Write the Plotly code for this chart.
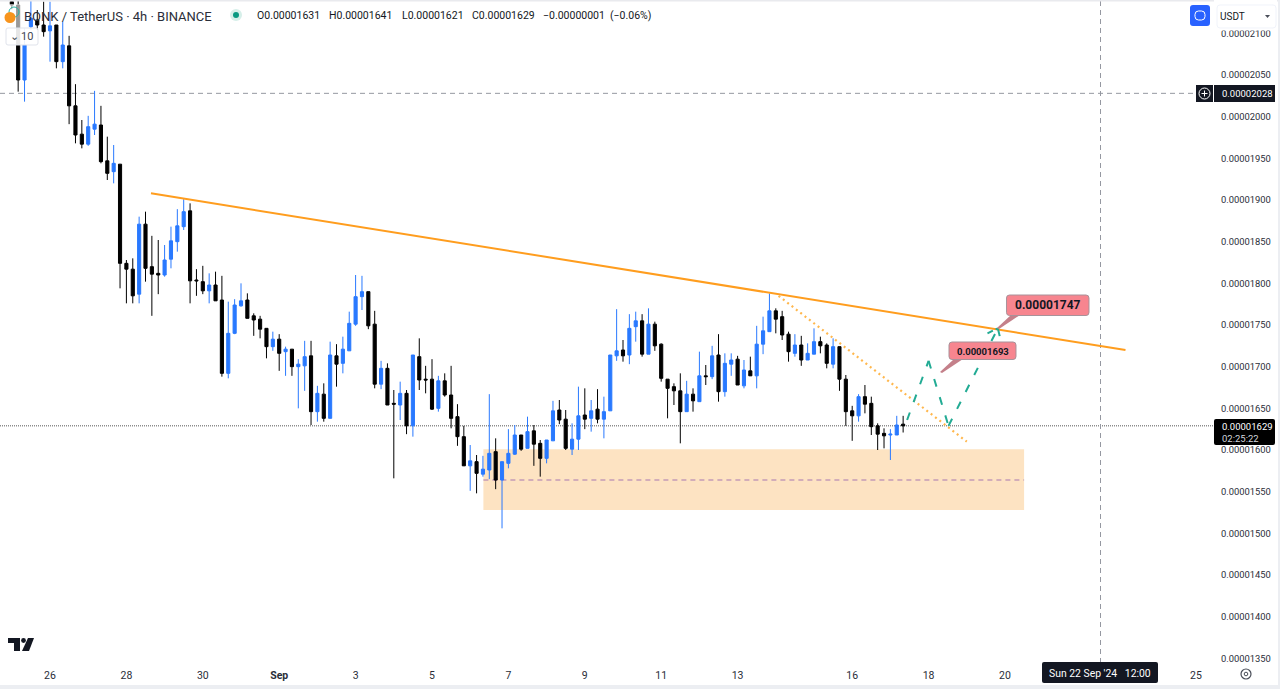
import pandas as pd
import numpy as np
import plotly.graph_objects as go

# prices are in units of 0.00000001
opens = [2138, 2134, 2044, 2108, 2116, 2110, 2103, 2110, 2066, 2085,
         2013, 1979, 1967, 1985, 1990, 1947, 1934, 1943, 1824, 1817,
         1787, 1871, 1820, 1812, 1810, 1829, 1850, 1868, 1887, 1804,
         1802, 1791, 1798, 1780, 1692, 1740, 1773, 1780, 1761, 1757,
         1746, 1724, 1733, 1718, 1721, 1700, 1701, 1713, 1646, 1667,
         1638, 1713, 1704, 1719, 1751, 1784, 1790, 1751, 1679, 1698,
         1656, 1654, 1668, 1629, 1712, 1685, 1685, 1650, 1683, 1666,
         1640, 1616, 1581, 1586, 1571, 1576, 1598, 1564, 1584, 1595,
         1618, 1602, 1623, 1608, 1590, 1611, 1648, 1637, 1601, 1613,
         1642, 1638, 1649, 1637, 1647, 1713, 1720, 1714, 1748, 1755,
         1715, 1751, 1727, 1685, 1676, 1671, 1646, 1667, 1658, 1689,
         1688, 1714, 1670, 1703, 1709, 1677, 1695, 1689, 1727, 1742,
         1767, 1760, 1739, 1716, 1726, 1708, 1715, 1730, 1726, 1703,
         1724, 1685, 1647, 1641, 1664, 1656, 1629, 1620, 1618, 1618,
         1631]
highs = [2146, 2150, 2106, 2146, 2128, 2138, 2138, 2110, 2114, 2097,
         2039, 1996, 2001, 2031, 2013, 1976, 1966, 1943, 1828, 1830,
         1880, 1886, 1857, 1852, 1846, 1868, 1889, 1901, 1896, 1817,
         1821, 1812, 1814, 1809, 1778, 1781, 1800, 1788, 1764, 1761,
         1746, 1742, 1739, 1724, 1721, 1709, 1731, 1731, 1677, 1680,
         1730, 1727, 1736, 1766, 1810, 1809, 1790, 1767, 1707, 1704,
         1672, 1682, 1672, 1714, 1734, 1701, 1709, 1689, 1692, 1701,
         1655, 1629, 1606, 1594, 1593, 1667, 1614, 1586, 1625, 1630,
         1618, 1640, 1630, 1612, 1612, 1659, 1660, 1648, 1632, 1676,
         1674, 1660, 1673, 1664, 1714, 1769, 1732, 1763, 1766, 1763,
         1770, 1754, 1728, 1685, 1680, 1692, 1683, 1674, 1718, 1702,
         1725, 1739, 1716, 1716, 1713, 1708, 1712, 1749, 1760, 1788,
         1770, 1767, 1742, 1739, 1737, 1728, 1746, 1736, 1728, 1734,
         1724, 1690, 1653, 1667, 1678, 1664, 1632, 1626, 1625, 1641,
         1641]
lows = [2129, 2030, 2018, 2104, 2104, 2096, 2066, 2058, 2058, 1991,
        1968, 1962, 1965, 1978, 1944, 1924, 1920, 1794, 1776, 1776,
        1776, 1802, 1761, 1787, 1808, 1818, 1838, 1864, 1776, 1785,
        1787, 1776, 1779, 1688, 1686, 1739, 1772, 1758, 1737, 1734,
        1710, 1719, 1695, 1689, 1689, 1650, 1671, 1630, 1634, 1634,
        1638, 1676, 1692, 1719, 1749, 1768, 1745, 1674, 1673, 1654,
        1566, 1636, 1619, 1616, 1672, 1668, 1648, 1646, 1664, 1626,
        1605, 1581, 1551, 1548, 1568, 1565, 1553, 1506, 1578, 1594,
        1599, 1602, 1581, 1568, 1584, 1611, 1631, 1600, 1594, 1600,
        1625, 1622, 1632, 1614, 1647, 1707, 1706, 1703, 1730, 1712,
        1715, 1719, 1682, 1638, 1654, 1608, 1646, 1646, 1658, 1678,
        1685, 1658, 1664, 1689, 1678, 1674, 1689, 1674, 1715, 1742,
        1740, 1732, 1706, 1712, 1701, 1708, 1715, 1716, 1698, 1698,
        1671, 1629, 1611, 1634, 1644, 1618, 1600, 1602, 1588, 1618,
        1621]
closes = [2134, 2044, 2086, 2118, 2110, 2102, 2109, 2066, 2086, 2013,
          1978, 1967, 1988, 1991, 1946, 1932, 1944, 1824, 1817, 1785,
          1871, 1818, 1811, 1810, 1828, 1851, 1869, 1886, 1803, 1803,
          1791, 1798, 1779, 1692, 1740, 1774, 1779, 1758, 1756, 1745,
          1724, 1733, 1716, 1721, 1700, 1703, 1712, 1646, 1668, 1638,
          1714, 1703, 1721, 1752, 1784, 1790, 1749, 1679, 1698, 1654,
          1655, 1668, 1629, 1714, 1684, 1684, 1649, 1683, 1666, 1638,
          1616, 1581, 1587, 1572, 1577, 1596, 1564, 1586, 1596, 1618,
          1601, 1622, 1607, 1590, 1612, 1647, 1636, 1602, 1613, 1641,
          1637, 1647, 1637, 1646, 1714, 1719, 1713, 1746, 1755, 1715,
          1751, 1725, 1686, 1674, 1671, 1646, 1667, 1659, 1689, 1688,
          1713, 1670, 1704, 1708, 1678, 1696, 1689, 1727, 1743, 1767,
          1757, 1738, 1718, 1726, 1708, 1716, 1730, 1725, 1704, 1724,
          1685, 1646, 1641, 1664, 1655, 1628, 1619, 1617, 1619, 1630,
          1629]

first_bar = "2024-08-25 00:00"

trend_dates = ["2024-08-28 15:27", "2024-09-23 03:42"]
trend_prices = [1908, 1720]
dotted_dates = ["2024-09-14 01:45", "2024-09-19 00:00"]
dotted_prices = [1785, 1610]
path_dates = ["2024-09-17 10:30", "2024-09-18 00:00", "2024-09-18 12:30",
              "2024-09-19 19:30", "2024-09-19 22:00"]
path_prices = [1636, 1707, 1629, 1746, 1726]
hook_dates = ["2024-09-19 13:00", "2024-09-19 19:30"]
hook_prices = [1740, 1746]

zone_dates = ["2024-09-06 08:17", "2024-09-20 12:00"]
zone_prices = [1528, 1601]
zone_mid = 1564
last_price = 1629
cross_price = 2028
cross_date = "2024-09-22 12:00"

tick_dates = ["2024-08-26", "2024-08-28", "2024-08-30", "2024-09-01", "2024-09-03",
              "2024-09-05", "2024-09-07", "2024-09-09", "2024-09-11", "2024-09-13",
              "2024-09-16", "2024-09-18", "2024-09-20", "2024-09-25"]
tick_text = ["26", "28", "30", "<b>Sep</b>", "3", "5", "7", "9", "11", "13",
             "16", "18", "20", "25"]

UNIT = 1e-8
PLOT_W = 1213.0
PLOT_H = 663.0
BLUE = "#2979ff"
DARK = "#131722"
TEAL = "#22ab94"
FONT = "Roboto"


def px(x):
    return x / PLOT_W


def py(y):
    return 1 - y / PLOT_H


def price(values):
    return np.array(values) * UNIT


def box(x0, y0, x1, y1, fill, line=None):
    return dict(type="rect", xref="paper", yref="paper", x0=px(x0), x1=px(x1),
                y0=py(y0), y1=py(y1), fillcolor=fill,
                line=dict(color=line or fill, width=1 if line else 0))


def round_box(x0, y0, x1, y1, r, fill, line=None):
    corners = [(x0 + r, y0), (x1 - r, y0), (x1, y0, x1, y0 + r), (x1, y1 - r), (x1, y1, x1 - r, y1),
               (x0 + r, y1), (x0, y1, x0, y1 - r), (x0, y0 + r), (x0, y0, x0 + r, y0)]
    d = f"M{px(corners[0][0]):.5f},{py(corners[0][1]):.5f}"
    for c in corners[1:]:
        if len(c) == 2:
            d += f" L{px(c[0]):.5f},{py(c[1]):.5f}"
        else:
            d += f" Q{px(c[0]):.5f},{py(c[1]):.5f} {px(c[2]):.5f},{py(c[3]):.5f}"
    return dict(type="path", xref="paper", yref="paper", path=d + " Z", fillcolor=fill,
                line=dict(color=line or fill, width=1 if line else 0))


def ring(cx, cy, r, color, width=1.0, fill="rgba(0,0,0,0)"):
    return dict(type="circle", xref="paper", yref="paper", x0=px(cx - r), x1=px(cx + r),
                y0=py(cy + r), y1=py(cy - r), fillcolor=fill,
                line=dict(color=color, width=width))


def seg(x0, y0, x1, y1, color, width=1.0):
    return dict(type="line", xref="paper", yref="paper", x0=px(x0), x1=px(x1),
                y0=py(y0), y1=py(y1), line=dict(color=color, width=width))


def poly(points, fill):
    d = "M" + " L".join(f"{px(a):.5f},{py(b):.5f}" for a, b in points) + " Z"
    return dict(type="path", xref="paper", yref="paper", path=d, fillcolor=fill,
                line=dict(width=0))


def label(x, y, text, size=10, color=DARK, anchor="left"):
    # annotations carry 2px of padding, take it off for left aligned text
    left = x - 2 if anchor == "left" else x
    return dict(xref="paper", yref="paper", x=px(left), y=py(y), text=text, showarrow=False,
                xanchor=anchor, yanchor="middle", align="left",
                font=dict(family=FONT, size=size, color=color))


dates = pd.date_range(first_bar, periods=len(opens), freq="4h")

fig = go.Figure()
fig.add_trace(go.Candlestick(
    x=dates, open=price(opens), high=price(highs), low=price(lows), close=price(closes),
    increasing=dict(line=dict(color=BLUE, width=1), fillcolor=BLUE),
    decreasing=dict(line=dict(color="#000000", width=1), fillcolor="#000000"),
    showlegend=False,
))
fig.add_trace(go.Scatter(x=trend_dates, y=price(trend_prices), mode="lines",
                         line=dict(color="#ff9d1e", width=2), showlegend=False))
fig.add_trace(go.Scatter(x=dotted_dates, y=price(dotted_prices), mode="lines",
                         line=dict(color="#ffb74d", width=2.2, dash="2px 3.5px"), showlegend=False))
# each leg restarts the dash pattern, so one trace per leg
for i in range(len(path_dates) - 1):
    fig.add_trace(go.Scatter(x=path_dates[i:i + 2], y=price(path_prices[i:i + 2]), mode="lines",
                             line=dict(color=TEAL, width=2, dash="8px 11px"), showlegend=False))
fig.add_trace(go.Scatter(x=hook_dates, y=price(hook_prices), mode="lines",
                         line=dict(color=TEAL, width=2, dash="6px 3px"), showlegend=False))

shapes = [
    # zone and its mid line
    dict(type="rect", xref="x", yref="y", x0=zone_dates[0], x1=zone_dates[1],
         y0=zone_prices[0] * UNIT, y1=zone_prices[1] * UNIT, fillcolor="#fde3c2",
         line=dict(width=0), layer="below"),
    dict(type="line", xref="x", yref="y", x0=zone_dates[0], x1=zone_dates[1],
         y0=zone_mid * UNIT, y1=zone_mid * UNIT, layer="below",
         line=dict(color="#a878b0", width=1.2, dash="5px 4px")),
    # last price and crosshair
    dict(type="line", xref="paper", yref="y", x0=0, x1=1, y0=last_price * UNIT, y1=last_price * UNIT,
         layer="below", line=dict(color="#555555", width=1, dash="1px 1px")),
    dict(type="line", xref="paper", yref="y", x0=0, x1=1, y0=cross_price * UNIT, y1=cross_price * UNIT,
         layer="below", line=dict(color="#9598a1", width=1, dash="5px 4px")),
    dict(type="line", xref="x", yref="paper", x0=cross_date, x1=cross_date, y0=0, y1=1,
         layer="below", line=dict(color="#9598a1", width=1, dash="5px 4px")),
    # callouts
    poly([(997, 328), (1011, 315), (1020, 315), (999, 329)], "#c4808a"),
    round_box(1006.5, 295, 1089, 315.5, 3, "#f7858f", "#a8929a"),
    poly([(940, 372), (954, 359), (963, 359), (942, 373)], "#c4808a"),
    round_box(949, 342, 1016, 359.5, 3, "#f7858f", "#a8929a"),
    # frame bands
    box(0, 0, 1280, 1.5, "#e9eaee"),
    box(0, 685, 1280, 689, "#eceef2"),
    box(1278, 0, 1280, 689, "#eceef2"),
    # top right controls
    box(1214, 0, 1277, 30.5, "#ffffff"),
    round_box(1190, 5, 1210, 26, 3, "#2962ff"),
    round_box(1195, 11, 1205, 20, 3.5, "rgba(0,0,0,0)", "#ffffff"),
    round_box(1217, 5, 1276, 28, 3, "#ffffff", "#f0f3fa"),
    poly([(1265, 15), (1270, 15), (1267.5, 18)], "#4a4e59"),
    # price labels
    box(1196, 85, 1213, 102, DARK),
    ring(1204.5, 93.5, 5.5, "#ffffff", 1),
    seg(1201.5, 93.5, 1207.5, 93.5, "#ffffff"),
    seg(1204.5, 90.5, 1204.5, 96.5, "#ffffff"),
    box(1214, 85, 1275, 102, DARK),
    round_box(1214, 419, 1275, 445, 2, "#000000"),
    round_box(1042, 662, 1158, 683, 2, DARK),
    # settings button
    ring(1246, 674, 5, "#4a4e59", 1.2),
    ring(1246, 674, 1.8, "#4a4e59", 1),
    # logo
    poly([(8, 638), (20, 638), (20, 651), (14, 651), (14, 643), (8, 643)], DARK),
    ring(23.5, 640.5, 2.4, DARK, 0, DARK),
    poly([(28, 638), (34, 638), (29, 651), (22, 651)], DARK),
    # symbol icon, header wash over the candles and status dot
    box(3, 4, 23.5, 28, "rgba(255,255,255,0.6)"),
    ring(14, 12, 5, "#2bb3a3", 1),
    ring(10, 17.5, 5.5, "#f7941d", 0, "#f7941d"),
    ring(236, 15, 6, "#d6efe9", 0, "#d6efe9"),
    ring(236, 15, 3, "#089981", 0, "#089981"),
    # indicator counter
    round_box(6, 28, 38, 45, 2, "rgba(255,255,255,0.9)", "#e0e3eb"),
]

annotations = [
    label(24, 16, "BONK / TetherUS · 4h · BINANCE", 13, "#2a2e39"),
    label(257, 15.5, "O0.00001631", 10.5),
    label(329, 15.5, "H0.00001641", 10.5),
    label(402, 15.5, "L0.00001621", 10.5),
    label(472, 15.5, "C0.00001629", 10.5),
    label(543, 15.5, "−0.00000001", 10.5),
    label(610, 15.5, "(−0.06%)", 10.5),
    label(21, 36, "10", 11, "#434651"),
    label(10, 36, "⌄", 11, "#434651"),
    label(1220, 16, "USDT", 10, "#131722"),
    label(1222, 94, "0.00002028", 9.5, "#ffffff"),
    label(1222, 426, "0.00001629", 9.5, "#ffffff"),
    label(1222, 438, "02:25:22", 9.5, "#d1d4dc"),
    label(1049, 673.5, "Sun 22 Sep '24&nbsp;&nbsp;&nbsp;12:00", 10.4, "#ffffff"),
    label(1047.7, 305, "<b>0.00001747</b>", 12, "#131722", "center"),
    label(982.5, 351, "<b>0.00001693</b>", 9.5, "#131722", "center"),
]

fig.update_layout(
    width=1280, height=689,
    margin=dict(l=0, r=67, t=0, b=26),
    paper_bgcolor="#ffffff", plot_bgcolor="#ffffff",
    showlegend=False,
    font=dict(family=FONT, size=10, color="#131722"),
    shapes=shapes, annotations=annotations,
    xaxis=dict(
        type="date", range=["2024-08-24 16:35", "2024-09-25 10:41"],
        rangeslider=dict(visible=False), showgrid=False, zeroline=False, showline=False,
        tickmode="array", tickvals=tick_dates, ticktext=tick_text, ticks="", ticklabelstandoff=4,
        tickfont=dict(family=FONT, size=10.5, color="#2a2e39"),
    ),
    yaxis=dict(
        side="right", range=[1344.4 * UNIT, 2140 * UNIT], showgrid=False, zeroline=False,
        showline=False, tick0=0, dtick=50 * UNIT, tickformat=".8f", ticks="", ticklabelstandoff=7,
        tickfont=dict(family=FONT, size=9.4, color="#2a2e39"),
    ),
)

fig.write_html("out.html", config=dict(displayModeBar=False),
               post_script="document.body.style.margin='0';document.body.style.overflow='hidden';")
